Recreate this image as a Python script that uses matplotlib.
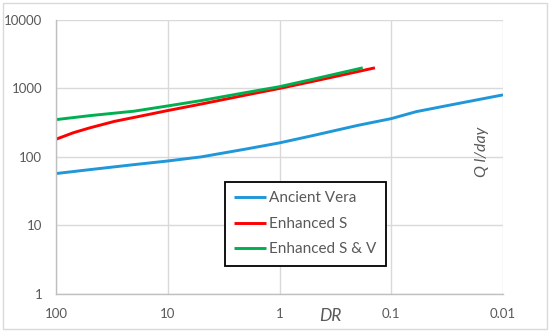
import matplotlib
import matplotlib.pyplot as plt
from matplotlib.patches import Rectangle
from matplotlib.ticker import FixedLocator, FixedFormatter, NullLocator

matplotlib.use('Agg')
plt.rcParams['font.family'] = ['Lato', 'DejaVu Sans']

# data (DR vs Q l/day)
dr_vera = [100, 50, 20, 10, 5, 2, 1, 0.5, 0.2, 0.1, 0.06, 0.03, 0.01]
q_vera = [57, 65, 77, 87, 100, 130, 160, 205, 288, 362, 457, 570, 805]

dr_s = [100, 70, 50, 30, 20, 10, 5, 2, 1, 0.5, 0.2, 0.14]
q_s = [181, 225, 265, 330, 377, 475, 592, 800, 1000, 1270, 1760, 2000]

dr_sv = [100, 50, 20, 10, 5, 2, 1, 0.5, 0.18]
q_sv = [350, 400, 465, 555, 665, 870, 1060, 1365, 2000]

x_ticks = [100, 10, 1, 0.1, 0.01]
x_labels = ["100", "10", "1", "0.1", "0.01"]
y_ticks = [1, 10, 100, 1000, 10000]
y_labels = ["1", "10", "100", "1000", "10000"]

gray = "#595959"

fig = plt.figure(figsize=(5.5, 3.32), dpi=100)
fig.patches.append(Rectangle((3 / 550, 3 / 332), 544 / 550, 326 / 332,
                             transform=fig.transFigure, fill=False,
                             ec="#d9d9d9", lw=1.0))
ax = fig.add_axes([56 / 550, 1 - 293.7 / 332, 447 / 550, 273.7 / 332])

ax.plot(dr_vera, q_vera, color="#1f97d8", lw=2.1, label="Ancient Vera",
        solid_capstyle="butt")
ax.plot(dr_s, q_s, color="#ff0000", lw=2.1, label="Enhanced S",
        solid_capstyle="butt")
ax.plot(dr_sv, q_sv, color="#00b050", lw=2.1, label="Enhanced S & V",
        solid_capstyle="butt")

ax.set_xscale("log")
ax.set_yscale("log")
ax.set_xlim(100, 0.01)
ax.set_ylim(1, 10000)

ax.xaxis.set_major_locator(FixedLocator(x_ticks))
ax.xaxis.set_major_formatter(FixedFormatter(x_labels))
ax.yaxis.set_major_locator(FixedLocator(y_ticks))
ax.yaxis.set_major_formatter(FixedFormatter(y_labels))
ax.xaxis.set_minor_locator(NullLocator())
ax.yaxis.set_minor_locator(NullLocator())
ax.tick_params(length=0, labelsize=9.5, colors=gray, pad=10)

ax.grid(True, color="#d9d9d9", lw=1.0)
ax.set_axisbelow(True)
for side in ["top", "right"]:
    ax.spines[side].set_visible(False)
for side in ["left", "bottom"]:
    ax.spines[side].set_color("#bfbfbf")
    ax.spines[side].set_linewidth(1.0)

leg = ax.legend(loc="upper left", bbox_to_anchor=(225 / 550, 1 - 182.3 / 332),
                bbox_transform=fig.transFigure, borderaxespad=0,
                fancybox=False, edgecolor="black", framealpha=1,
                fontsize=11, labelcolor=gray, handlelength=2.1,
                handletextpad=0.2, labelspacing=0.75, borderpad=0.6)
leg.get_frame().set_linewidth(1.3)

fig.text(330 / 550, 1 - 316 / 332, "DR", fontsize=12.5, style="italic",
         color=gray, ha="center", va="center")
fig.text(482 / 550, 1 - 152 / 332, "Q l/day", fontsize=11.5, style="italic",
         color=gray, ha="center", va="center", rotation=90)

fig.savefig("out.png", dpi=100)
